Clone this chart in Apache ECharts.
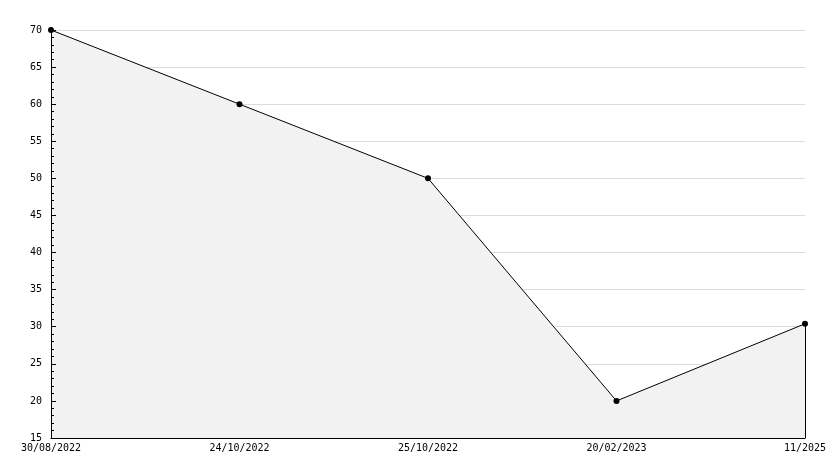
<!DOCTYPE html>
<html><head><meta charset="utf-8">
<script src="https://cdn.jsdelivr.net/npm/echarts@6/dist/echarts.min.js"></script>
<style>html,body{margin:0;padding:0;background:#fff}#c{width:834px;height:468px}</style>
</head><body><div id="c"></div>
<script>
const categories = ["30/08/2022", "24/10/2022", "25/10/2022", "20/02/2023", "11/2025"];
const values = [70, 60, 50, 20, 30.4];
const yMin = 15, yMax = 70, yStep = 5;

const font = "DejaVu Sans Mono";
const chart = echarts.init(document.getElementById('c'));
const last = categories.length - 1;
chart.setOption({
  animation: false,
  backgroundColor: '#fff',
  grid: { left: 51, right: 29, top: 30, bottom: 30, containLabel: false },
  xAxis: {
    type: 'category', data: categories, boundaryGap: false, z: 5,
    axisLine: { lineStyle: { color: '#000', width: 1 } },
    axisTick: { show: false },
    axisLabel: { color: '#000', fontFamily: font, fontSize: 10, margin: 5, interval: 0 },
    splitLine: { show: false }
  },
  yAxis: [{
    type: 'value', min: yMin, max: yMax, interval: yStep, z: 0,
    axisLine: { show: false },
    axisTick: { show: false },
    axisLabel: { show: false },
    splitLine: { show: true, lineStyle: { color: '#dcdcdc', width: 1 } }
  }, {
    type: 'value', min: yMin, max: yMax, interval: yStep, position: 'left', z: 5,
    axisLine: { show: true, lineStyle: { color: '#000', width: 1 } },
    axisTick: { show: true, inside: true, length: 5, lineStyle: { color: '#000' } },
    minorTick: { show: true, splitNumber: 5, length: 3, lineStyle: { color: '#000' } },
    axisLabel: { color: '#000', fontFamily: font, fontSize: 10, margin: 9 },
    splitLine: { show: false }
  }],
  series: [{
    type: 'line', data: values, yAxisIndex: 0,
    symbol: 'circle', symbolSize: 6,
    itemStyle: { color: '#000' },
    lineStyle: { color: '#000', width: 1 },
    areaStyle: { color: '#f2f2f2', opacity: 1, origin: 'start' },
    markLine: {
      silent: true, symbol: 'none', label: { show: false },
      lineStyle: { color: '#000', width: 1, type: 'solid' },
      data: [[{ coord: [last, values[last]] }, { coord: [last, yMin] }]]
    }
  }]
});
</script></body></html>
